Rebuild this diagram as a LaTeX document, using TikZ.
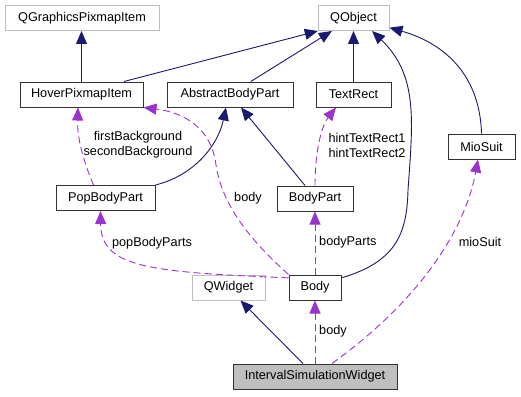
\documentclass[tikz,border=0pt]{standalone}
\usepackage{fontspec}
\setmainfont{Liberation Sans}
\usetikzlibrary{arrows.meta}
\definecolor{navy}{HTML}{191970}
\definecolor{orchid}{HTML}{9A32CD}
\definecolor{boxgray}{HTML}{BFBFBF}
\begin{document}
\begin{tikzpicture}[x=1pt,y=-1pt,font=\fontsize{12.7}{15}\selectfont,
  cls/.style={draw=black!80,line width=1pt,fill=white,minimum height=25pt,inner sep=0pt},
  ext/.style={cls,draw=boxgray},
  cur/.style={cls,fill=boxgray},
  inh/.style={navy,line width=0.9pt,-{Triangle[length=13pt,width=11pt]}},
  use/.style={orchid,line width=0.9pt,dash pattern=on 7pt off 4pt,-{Triangle[length=13pt,width=11pt]}},
  lbl/.style={inner sep=0pt,align=center}]
\useasboundingbox (0,0) rectangle (521,396);
\node[ext,minimum width=154pt] (qgpi) at (82,18) {QGraphicsPixmapItem};
\node[ext,minimum width=71pt] (qobject) at (353.5,18) {QObject};
\node[cls,minimum width=123pt] (hover) at (81.5,94.5) {HoverPixmapItem};
\node[cls,minimum width=126pt] (abp) at (230,94.5) {AbstractBodyPart};
\node[cls,minimum width=75pt] (textrect) at (353.5,94.5) {TextRect};
\node[cls,minimum width=67pt] (miosuit) at (481.5,146.5) {MioSuit};
\node[cls,minimum width=99pt] (popbody) at (105.5,198) {PopBodyPart};
\node[cls,minimum width=76pt] (bodypart) at (315,198.5) {BodyPart};
\node[ext,minimum width=73pt] (qwidget) at (228.5,287.5) {QWidget};
\node[cls,minimum width=52pt] (body) at (315,287.5) {Body};
\node[cur,minimum width=164pt] (isw) at (315,376.5) {IntervalSimulationWidget};
\draw[inh] (hover.north) -- (hover.north |- qgpi.south);
\draw[inh] (hover.17) -- (qobject.200);
\draw[inh] (abp.32) -- (qobject.211);
\draw[inh] (textrect) -- (qobject);
\draw[inh] (body.20) .. controls (395,262) and (407,235) .. (408,190) .. controls (413,120) and (418,75) .. (qobject.325);
\draw[inh] (miosuit.north) .. controls (480,80) and (450,45) .. (qobject.345);
\draw[inh] (popbody.north east) .. controls (195,175) and (218,145) .. ([xshift=-4pt]abp.south);
\draw[inh] ([xshift=-10pt]bodypart.north) -- ([xshift=11pt]abp.south);
\draw[inh] ([xshift=-12pt]isw.north) -- ([xshift=12pt]qwidget.south);
\draw[use] ([xshift=-12pt]popbody.north) .. controls (85,165) and (77,140) .. ([xshift=-3.5pt]hover.south);
\node[lbl] (lbg) at (138,145) {firstBackground\\secondBackground};
\draw[use] (body.north west) .. controls (250,240) and (222,205) .. (216,165) .. controls (211,125) and (180,112) .. (hover.south east);
\node[lbl] (lhbody) at (248,198) {body};
\draw[use] (body.160) .. controls (150,272) and (101,268) .. ([xshift=-5pt]popbody.south);
\node[lbl] (lpop) at (152,243) {popBodyParts};
\draw[use] (body) -- (bodypart);
\node[lbl,anchor=west] (lparts) at (319,242) {bodyParts};
\draw[use] (bodypart.north) .. controls (315,150) and (322,125) .. ([xshift=-17.5pt]textrect.south);
\node[lbl] (lhint) at (367,145) {hintTextRect1\\hintTextRect2};
\draw[use] (isw) -- (body);
\node[lbl,anchor=west] (lbody) at (319,331) {body};
\draw[use] ([xshift=17pt]isw.north) .. controls (420,300) and (465,230) .. ([xshift=-3.5pt]miosuit.south);
\node[lbl] (lmio) at (480,242) {mioSuit};
\end{tikzpicture}
\end{document}
